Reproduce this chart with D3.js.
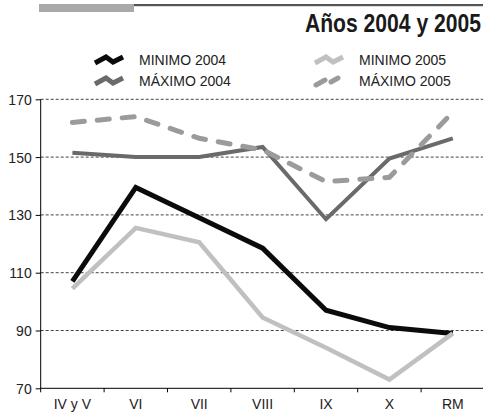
<!DOCTYPE html>
<html>
<head>
<meta charset="utf-8">
<script src="https://cdn.jsdelivr.net/npm/d3@7"></script>
<style>
  html, body { margin: 0; padding: 0; background: #fff; }
  svg { display: block; }
  text { font-family: "Liberation Sans", Arial, sans-serif; }
</style>
</head>
<body>
<div id="chart"></div>
<script>
const categories = ['IV y V', 'VI', 'VII', 'VIII', 'IX', 'X', 'RM'];
const minimo2004 = [107, 139.5, 129, 118.5, 97, 91, 89];
const minimo2005 = [104.5, 125.5, 120.5, 94.5, 84, 73, 89];
const maximo2004 = [151.5, 150, 150, 153.5, 128.5, 149.5, 156.5];
const maximo2005 = [162, 164, 156.5, 152.5, 141.5, 143, 165.5];
const yTicks = [70, 90, 110, 130, 150, 170];
const title = 'Años 2004 y 2005';

const width = 483;
const height = 414;
const margin = { left: 40.7, top: 99.3, bottom: 388.3 };

const series = [
  { name: 'MÁXIMO 2004', values: maximo2004, color: '#6a6a6a', width: 4, dash: null },
  { name: 'MÁXIMO 2005', values: maximo2005, color: '#9b9b9b', width: 5, dash: '12,13' },
  { name: 'MINIMO 2004', values: minimo2004, color: '#0b0b0b', width: 5, dash: null },
  { name: 'MINIMO 2005', values: minimo2005, color: '#c0c0c0', width: 4.5, dash: null }
];

const svg = d3.select('#chart').append('svg')
  .attr('width', width)
  .attr('height', height);

// header rules
svg.append('rect').attr('x', 39).attr('y', 4).attr('width', width - 39).attr('height', 2.2).attr('fill', '#555');
svg.append('rect').attr('x', 39).attr('y', 4).attr('width', 95).attr('height', 8).attr('fill', '#a9a9a9');

// no narrow font installed, so squeeze the bold title horizontally
const squeeze = 0.845;
svg.append('text')
  .attr('transform', `translate(481,31.7) scale(${squeeze},1)`)
  .attr('text-anchor', 'end')
  .style('font-family', '"Liberation Sans", Arial, sans-serif')
  .style('font-weight', 'bold')
  .style('font-size', '25px')
  .attr('fill', '#1a1a1a')
  .text(title);

const x = d3.scaleBand().domain(categories).range([margin.left, margin.left + 7 * 63.4]);
const y = d3.scaleLinear().domain([70, 170]).range([margin.bottom, margin.top]);

// grid
svg.append('g')
  .selectAll('line')
  .data(yTicks.filter(d => d > 70))
  .join('line')
  .attr('x1', margin.left)
  .attr('x2', width)
  .attr('y1', d => y(d))
  .attr('y2', d => y(d))
  .attr('stroke', '#444')
  .attr('stroke-width', 1)
  .attr('stroke-dasharray', '3,2');

// y axis
const yAxis = svg.append('g')
  .attr('transform', `translate(${margin.left},0)`)
  .call(d3.axisLeft(y).tickValues(yTicks).tickSize(5).tickPadding(4));
yAxis.select('.domain').attr('stroke', '#000').attr('d', `M0,${margin.top}V${margin.bottom + 4}`);
yAxis.selectAll('.tick line').attr('stroke', '#000');
yAxis.selectAll('.tick text')
  .attr('fill', '#222')
  .style('font-family', '"Liberation Sans", Arial, sans-serif')
  .style('font-size', '14px')
  .attr('dy', '0.36em');

// x axis
const xAxis = svg.append('g')
  .attr('transform', `translate(0,${margin.bottom})`)
  .call(d3.axisBottom(x).tickSize(0).tickPadding(11));
xAxis.select('.domain').attr('stroke', '#000').attr('d', `M${margin.left},0H${width}`);
xAxis.selectAll('.tick text')
  .attr('fill', '#222')
  .style('font-family', '"Liberation Sans", Arial, sans-serif')
  .style('font-size', '14px');

xAxis.selectAll('line.sep')
  .data(categories.slice(1))
  .join('line')
  .attr('class', 'sep')
  .attr('x1', d => x(d))
  .attr('x2', d => x(d))
  .attr('y1', 0)
  .attr('y2', 4)
  .attr('stroke', '#000');

// lines
const line = d3.line()
  .x((d, i) => x(categories[i]) + x.bandwidth() / 2)
  .y(d => y(d));

svg.append('g')
  .selectAll('path')
  .data(series)
  .join('path')
  .attr('d', d => line(d.values))
  .attr('fill', 'none')
  .attr('stroke', d => d.color)
  .attr('stroke-width', d => d.width)
  .attr('stroke-dasharray', d => d.dash)
  .attr('stroke-linecap', d => d.dash ? 'round' : 'butt')
  .attr('stroke-linejoin', 'miter');

// legend
const legendItems = [
  { s: series[2], x: 95, y: 60 },
  { s: series[0], x: 95, y: 81 },
  { s: series[3], x: 315, y: 60 },
  { s: series[1], x: 315, y: 81 }
];
const iconShape = [[0, 3], [11, -3], [18, 2], [28, -3]];
const legend = svg.append('g').selectAll('g').data(legendItems).join('g')
  .attr('transform', d => `translate(${d.x},${d.y})`);

legend.append('path')
  .attr('d', d => d.s.dash ? 'M1,4L10,-1M16,1L23,-3' : d3.line()(iconShape))
  .attr('fill', 'none')
  .attr('stroke', d => d.s.color)
  .attr('stroke-width', 5)
  .attr('stroke-linecap', d => d.s.dash ? 'round' : 'butt');

legend.append('text')
  .attr('x', 44)
  .attr('y', 5)
  .attr('fill', '#222')
  .style('font-size', '14px')
  .text(d => d.s.name);
</script>
</body>
</html>
